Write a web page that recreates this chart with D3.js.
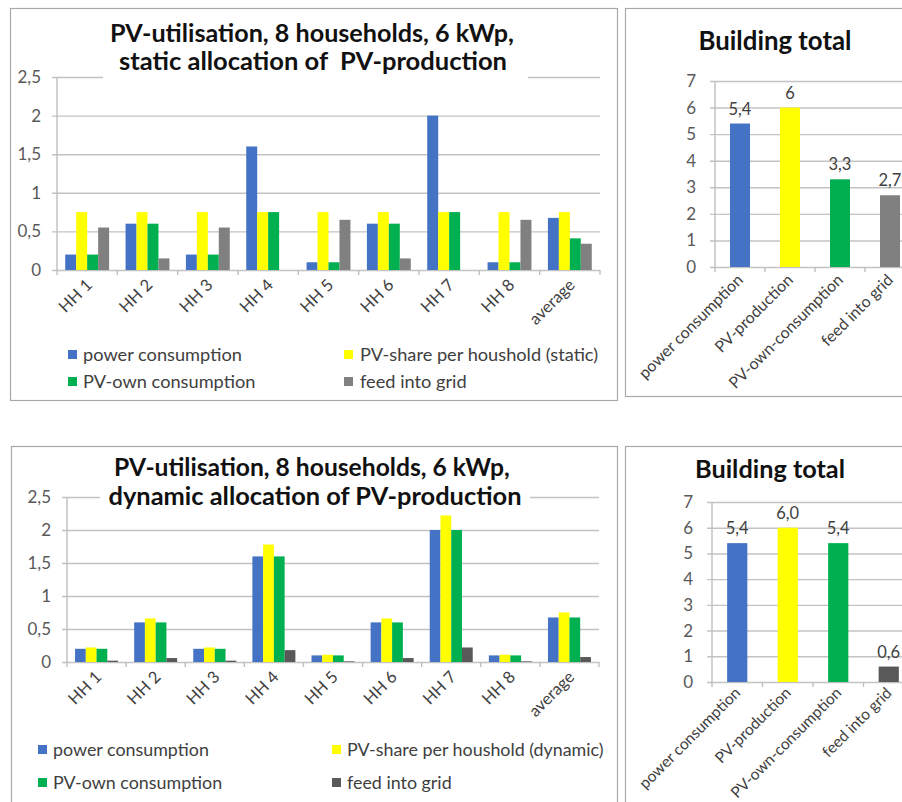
<!DOCTYPE html>
<html>
<head>
<meta charset="utf-8">
<script src="https://cdn.jsdelivr.net/npm/d3@7"></script>
<style>
body{margin:0;background:#fff;}
svg{display:block;font-family:Lato,"Open Sans",sans-serif;}
</style>
</head>
<body>
<svg id="chart" width="902" height="802"></svg>
<script>
// household data (kW)
var hhLabels = ['HH 1','HH 2','HH 3','HH 4','HH 5','HH 6','HH 7','HH 8','average'];
var consumption = [0.2,0.6,0.2,1.6,0.1,0.6,2.0,0.1,0.675];
var shareStatic = [0.75,0.75,0.75,0.75,0.75,0.75,0.75,0.75,0.75];
var ownStatic = [0.2,0.6,0.2,0.75,0.1,0.6,0.75,0.1,0.41];
var feedStatic = [0.55,0.15,0.55,0,0.65,0.15,0,0.65,0.34];
var shareDynamic = [0.22,0.66,0.22,1.78,0.11,0.66,2.22,0.11,0.75];
var ownDynamic = [0.2,0.6,0.2,1.6,0.1,0.6,2.0,0.1,0.675];
var feedDynamic = [0.02,0.06,0.02,0.18,0.01,0.06,0.22,0.01,0.075];
var hhTicks = [0,0.5,1,1.5,2,2.5];

var legendStatic = ['power consumption','PV-share per houshold (static)','PV-own consumption','feed into grid'];
var legendDynamic = ['power consumption','PV-share per houshold (dynamic)','PV-own consumption','feed into grid'];

// building totals
var totalLabels = ['power consumption','PV-production','PV-own-consumption','feed into grid'];
var totalStatic = [5.4,6,3.3,2.7];
var totalDynamic = [5.4,6.0,5.4,0.6];
var totalTicks = [0,1,2,3,4,5,6,7];

var svg = d3.select('#chart');
var de = d3.formatLocale({decimal:',',thousands:'.',grouping:[3],currency:['','']});
var fmtTick = de.format('~g');

// scale font-size so the text is w px wide
function fit(sel, w) {
    var fs = parseFloat(sel.attr('font-size'));
    var cur = sel.node().getComputedTextLength();
    sel.attr('font-size', (fs * w / cur).toFixed(2));
    return sel;
}

function panel(x, y, w, h) {
    svg.append('rect')
       .attr('x', x).attr('y', y).attr('width', w).attr('height', h)
       .attr('fill', 'none').attr('stroke', '#a9a9a9').attr('stroke-width', 1.2);
}

function yGrid(g, y, ticks, left, right, pad, fmt) {
    var ax = d3.axisLeft(y).tickValues(ticks).tickFormat(fmt)
               .tickSize(-(right - left + 5)).tickPadding(pad);
    var yg = g.append('g')
              .attr('transform', 'translate(' + (left - 5) + ',0)')
              .call(ax);
    // axis() forces 10px sans-serif on the group, override afterwards
    yg.attr('font-family', null).attr('font-size', 17);
    yg.select('.domain').remove();
    yg.selectAll('line').attr('stroke', '#c3c3c3').attr('stroke-width', 1.4);
    yg.selectAll('text').attr('fill', '#595959');
    return yg;
}

function drawHH(c) {
    var g = svg.append('g');
    var x0 = d3.scaleBand().domain(hhLabels).range([c.left, c.right]);
    var x1 = d3.scaleBand().domain(d3.range(c.series.length))
               .range([0, x0.bandwidth()]).paddingOuter(0.75);
    var y = d3.scaleLinear().domain([0, 2.5]).range([c.base, c.top]);

    yGrid(g, y, hhTicks, c.left, c.right, 11, fmtTick);

    // title sits on a white box that cuts the top gridline
    g.append('rect')
     .attr('x', c.gap[0]).attr('width', c.gap[1] - c.gap[0])
     .attr('y', c.top - 8).attr('height', 16).attr('fill', '#fff');

    g.append('line')
     .attr('x1', c.left).attr('x2', c.left).attr('y1', c.top).attr('y2', c.base)
     .attr('stroke', '#bfbfbf').attr('stroke-width', 1.4);

    c.series.forEach(function (vals, si) {
        g.append('g').selectAll('rect')
         .data(vals)
         .join('rect')
         .attr('x', function (d, i) { return x0(hhLabels[i]) + x1(si); })
         .attr('y', function (d) { return y(d); })
         .attr('width', x1.bandwidth())
         .attr('height', function (d) { return c.base - y(d); })
         .attr('fill', c.colors[si]);
    });

    // category boundary ticks
    var bounds = hhLabels.map(function (d) { return x0(d); }).concat([c.right]);
    g.append('g').selectAll('line')
     .data(bounds).join('line')
     .attr('x1', function (d) { return d; }).attr('x2', function (d) { return d; })
     .attr('y1', c.base).attr('y2', c.base + 5)
     .attr('stroke', '#bfbfbf').attr('stroke-width', 1.4);

    g.append('g').selectAll('text')
     .data(hhLabels).join('text')
     .attr('transform', function (d) {
         return 'translate(' + (x0(d) + x0.bandwidth() / 2 + 6) + ',' + (c.base + 16) + ') rotate(-45)';
     })
     .attr('text-anchor', 'end').attr('font-size', 16.5).attr('fill', '#404040')
     .text(function (d) { return d; });

    c.title.forEach(function (t, i) {
        var tt = g.append('text')
                  .attr('x', c.titleX[i]).attr('y', c.titleY[i])
                  .attr('text-anchor', 'middle').attr('font-weight', 'bold')
                  .attr('font-size', 20).attr('fill', '#111')
                  .style('white-space', 'pre')
                  .text(t);
        fit(tt, c.titleW[i]);
    });

    // legend, two columns by two rows
    var lg = c.legend;
    var probe = g.append('text').attr('font-size', 16).text(lg.names[0]);
    fit(probe, lg.width);
    var lfs = probe.attr('font-size');
    probe.remove();
    lg.names.forEach(function (name, i) {
        var col = i % 2, row = Math.floor(i / 2);
        g.append('rect')
         .attr('x', lg.sx[col]).attr('y', lg.rows[row] - 5)
         .attr('width', 9).attr('height', 9)
         .attr('fill', c.colors[i]);
        g.append('text')
         .attr('x', lg.tx[col]).attr('y', lg.rows[row]).attr('dy', '0.35em')
         .attr('font-size', lfs).attr('fill', '#404040')
         .text(name);
    });
}

function drawTotal(c) {
    var g = svg.append('g');
    var x = d3.scaleBand().domain(totalLabels)
              .range([c.left, c.left + 4 * c.step])
              .paddingInner(0.6).paddingOuter(0.3);
    var y = d3.scaleLinear().domain([0, 7]).range([c.base, c.top]);

    yGrid(g, y, totalTicks, c.left, c.left + 4 * c.step, 14, fmtTick);

    g.append('line')
     .attr('x1', c.left).attr('x2', c.left).attr('y1', c.top).attr('y2', c.base)
     .attr('stroke', '#bfbfbf').attr('stroke-width', 1.4);

    g.append('g').selectAll('rect')
     .data(c.values).join('rect')
     .attr('x', function (d, i) { return x(totalLabels[i]); })
     .attr('y', function (d) { return y(d); })
     .attr('width', x.bandwidth())
     .attr('height', function (d) { return c.base - y(d); })
     .attr('fill', function (d, i) { return c.colors[i]; });

    g.append('g').selectAll('text')
     .data(c.values).join('text')
     .attr('x', function (d, i) { return x(totalLabels[i]) + x.bandwidth() / 2; })
     .attr('y', function (d) { return y(d) - 9; })
     .attr('text-anchor', 'middle').attr('font-size', 16.5).attr('fill', '#404040')
     .text(c.fmt);

    var bounds = d3.range(5).map(function (i) { return c.left + i * c.step; });
    g.append('g').selectAll('line')
     .data(bounds).join('line')
     .attr('x1', function (d) { return d; }).attr('x2', function (d) { return d; })
     .attr('y1', c.base).attr('y2', c.base + 5)
     .attr('stroke', '#bfbfbf').attr('stroke-width', 1.4);

    g.append('g').selectAll('text.cat')
     .data(totalLabels).join('text')
     .attr('class', 'cat')
     .attr('transform', function (d) {
         return 'translate(' + (x(d) + x.bandwidth() / 2 + 4) + ',' + (c.base + c.labelDy) + ') rotate(-45)';
     })
     .attr('text-anchor', 'end').attr('font-size', c.labelSize).attr('fill', '#404040')
     .text(function (d) { return d; });

    var tt = g.append('text')
              .attr('x', c.titleX).attr('y', c.titleY)
              .attr('text-anchor', 'middle').attr('font-weight', 'bold')
              .attr('font-size', 20).attr('fill', '#111')
              .text('Building total');
    fit(tt, c.titleW);
}

panel(10.5, 8.5, 607, 392);
panel(625.5, 8.5, 300, 388);
panel(11.5, 446.5, 606, 400);
panel(625.5, 446.5, 300, 400);

drawHH({
    left: 57, right: 600, base: 270, top: 77,
    series: [consumption, shareStatic, ownStatic, feedStatic],
    colors: ['#4472c4', '#ffff00', '#00b050', '#808080'],
    title: ['PV-utilisation, 8 households, 6 kWp,', 'static allocation of  PV-production'],
    titleX: [312, 313], titleY: [42, 70], titleW: [404, 388],
    gap: [103, 528],
    legend: { names: legendStatic, sx: [68, 344], tx: [83, 360], rows: [355, 382], width: 159 }
});

drawHH({
    left: 67, right: 599, base: 662, top: 497,
    series: [consumption, shareDynamic, ownDynamic, feedDynamic],
    colors: ['#4472c4', '#ffff00', '#00b050', '#595959'],
    title: ['PV-utilisation, 8 households, 6 kWp,', 'dynamic allocation of PV-production'],
    titleX: [312, 315], titleY: [476, 505], titleW: [396, 413],
    gap: [100, 530],
    legend: { names: legendDynamic, sx: [38, 332], tx: [53, 347], rows: [750, 783], width: 156 }
});

drawTotal({
    left: 715, step: 50, base: 267, top: 81,
    values: totalStatic,
    colors: ['#4472c4', '#ffff00', '#00b050', '#808080'],
    fmt: de.format('~g'),
    labelSize: 16, labelDy: 14,
    titleX: 775, titleY: 50, titleW: 153
});

drawTotal({
    left: 712, step: 50.5, base: 682, top: 502,
    values: totalDynamic,
    colors: ['#4472c4', '#ffff00', '#00b050', '#595959'],
    fmt: de.format('.1f'),
    labelSize: 15.5, labelDy: 12,
    titleX: 770, titleY: 478, titleW: 150
});
</script>
</body>
</html>
